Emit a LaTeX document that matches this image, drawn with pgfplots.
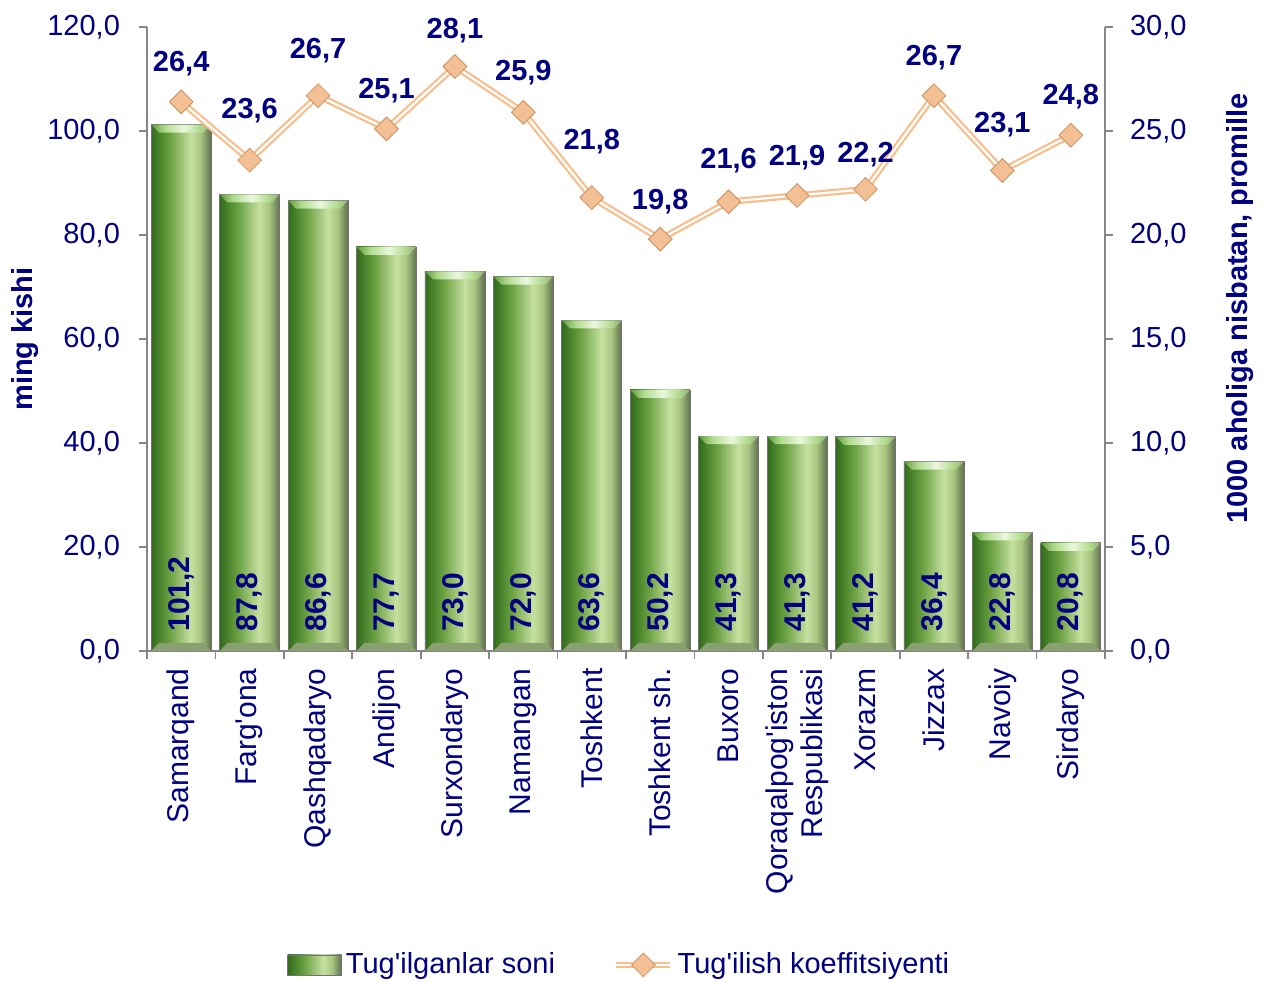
\documentclass[border=0pt]{standalone}
\usepackage{pgfplots}
\pgfplotsset{compat=1.18}
\usepackage{pgfplotstable}
\usepackage{fontspec}
\setmainfont{Liberation Sans}[Ligatures=TeXOff]
\definecolor{navy}{RGB}{0,0,128}
\definecolor{axgray}{RGB}{134,134,134}
\definecolor{gA}{RGB}{50,108,28}
\definecolor{gB}{RGB}{105,160,65}
\definecolor{gC}{RGB}{198,224,160}
\definecolor{gD}{RGB}{170,198,130}
\definecolor{gE}{RGB}{95,112,78}
\definecolor{cA}{RGB}{95,155,60}
\definecolor{cB}{RGB}{175,218,140}
\definecolor{cC}{RGB}{235,248,222}
\definecolor{cD}{RGB}{150,170,125}
\definecolor{botbev}{RGB}{138,160,112}
\definecolor{peach}{RGB}{248,190,140}
\definecolor{peachfill}{RGB}{242,192,148}
\definecolor{peachdark}{RGB}{205,145,95}
\pgfdeclarehorizontalshading{barshade}{100bp}{color(0bp)=(gA); color(25bp)=(gA); color(40bp)=(gB); color(58bp)=(gC); color(66bp)=(gD); color(75bp)=(gE); color(100bp)=(gE)}
\pgfdeclarehorizontalshading{capshade}{100bp}{color(0bp)=(cA); color(25bp)=(cA); color(36bp)=(cB); color(52bp)=(cC); color(66bp)=(cB); color(75bp)=(cD); color(100bp)=(cD)}
\pgfdeclareplotmark{bartop}{%
  \pgfpathmoveto{\pgfpoint{-15pt}{0pt}}%
  \pgfpathlineto{\pgfpoint{15pt}{0pt}}%
  \pgfpathlineto{\pgfpoint{11pt}{-4pt}}%
  \pgfpathlineto{\pgfpoint{-11pt}{-4pt}}%
  \pgfpathclose
  \pgfshadepath{capshade}{0}%
  \pgfusepath{}%
}
\pgfdeclareplotmark{barbot}{%
  \pgfsetfillcolor{botbev}%
  \pgfpathmoveto{\pgfpoint{-15pt}{0pt}}%
  \pgfpathlineto{\pgfpoint{15pt}{0pt}}%
  \pgfpathlineto{\pgfpoint{11pt}{4pt}}%
  \pgfpathlineto{\pgfpoint{-11pt}{4pt}}%
  \pgfpathclose
  \pgfusepath{fill}%
}
\newcommand\fs{\fontsize{14.5}{17}\selectfont}
\pgfplotsset{
  linelegend/.style={legend image code/.code={%
    \draw[draw=peach, double=white, double distance=1.1pt, line width=1.1pt] (0pt,0pt) -- (27pt,0pt);
    \draw[mark=square*, mark size=4.2pt, mark options={rotate=45, fill=peachfill, draw=peachdark, line width=0.4pt}] plot coordinates {(13.5pt,0pt)};}},
  barlegend/.style={legend image code/.code={\path[shade, shading=barshade, draw=black!55, line width=0.3pt] (0pt,-5pt) rectangle (27pt,5pt);}},
}
\pgfplotstableread{
x v k dy
0 101.2 26.4 19
1 87.8 23.6 24.5
2 86.6 26.7 22.5
3 77.7 25.1 19
4 73.0 28.1 18
5 72.0 25.9 20
6 63.6 21.8 28
7 50.2 19.8 19
8 41.3 21.6 20.5
9 41.3 21.9 19
10 41.2 22.2 17.5
11 36.4 26.7 19
12 22.8 23.1 23
13 20.8 24.8 19.5
}\data
\begin{document}
\begin{tikzpicture}
\useasboundingbox (-73.5pt,-166pt) rectangle (561pt,325.5pt);
\begin{axis}[
  at={(0,0)}, anchor=south west, scale only axis,
  width=479pt, height=312pt,
  xmin=-0.5, xmax=13.5, ymin=0, ymax=120,
  axis x line*=bottom, axis y line*=left,
  axis line style={axgray, line width=0.8pt},
  tick style={axgray, line width=0.8pt},
  tick align=outside,
  major tick length=4pt, minor tick length=4pt,
  xtick={0,...,13},
  major x tick style={draw=none},
  minor xtick={-0.5,0.5,...,13.5},
  xticklabels={Samarqand,Farg'ona,Qashqadaryo,Andijon,Surxondaryo,Namangan,Toshkent,Toshkent sh.,Buxoro,{Qoraqalpog'iston\\Respublikasi},Xorazm,Jizzax,Navoiy,Sirdaryo},
  xticklabel style={rotate=90, anchor=east, align=right, font=\fontsize{15}{17.5}\selectfont, text=navy, inner sep=0pt, xshift=-4.5pt},
  ytick={0,20,...,120},
  yticklabel style={font=\fs, text=navy, xshift=-6pt},
  /pgf/number format/.cd, fixed, fixed zerofill, precision=1, use comma, assume math mode=true,
  /pgfplots/.cd,
  ylabel={ming kishi},
  every axis y label/.style={at={(axis description cs:-0.127,0.5)}, rotate=90, anchor=center, font=\bfseries\fs, text=navy},
]
\pgfplotsinvokeforeach{0,...,13}{
  \addplot[ybar, bar width=30pt, bar shift=0pt, shading=barshade, draw=black!55, line width=0.3pt,
    restrict expr to domain={\coordindex}{#1:#1}] table[x=x, y=v] {\data};
}
\addplot[only marks, mark=barbot] table[x=x, y expr=0] {\data};
\addplot[only marks, mark=bartop] table[x=x, y=v] {\data};
\end{axis}
\begin{axis}[
  at={(0,0)}, anchor=south west, scale only axis,
  width=479pt, height=312pt,
  xmin=-0.5, xmax=13.5, ymin=0, ymax=30,
  axis y line*=right, axis x line=none,
  axis line style={axgray, line width=0.8pt},
  tick style={axgray, line width=0.8pt},
  tick align=outside, major tick length=4pt,
  ytick={0,5,...,30},
  yticklabel style={font=\fs, text=navy, xshift=5pt},
  /pgf/number format/.cd, fixed, fixed zerofill, precision=1, use comma, assume math mode=true,
  /pgfplots/.cd,
  ylabel={1000 aholiga nisbatan, promille},
  every axis y label/.style={at={(axis description cs:1.141,0.549)}, rotate=90, anchor=center, font=\bfseries\fs, text=navy},
  legend style={at={(axis description cs:0.494,-0.503)}, anchor=center, draw=none, fill=none, font=\fs, text=navy},
  legend columns=2,
  /tikz/every even column/.append style={column sep=27pt},
]
\addlegendimage{barlegend}
\addlegendentry{Tug'ilganlar soni}
\addplot[draw=peach, double=white, double distance=1.1pt, line width=1.1pt,
  mark=square*, mark size=4.2pt, mark options={rotate=45, fill=peachfill, draw=peachdark, line width=0.4pt},
  nodes near coords, point meta=explicit,
  visualization depends on={\thisrow{dy} \as \dy},
  nodes near coords align={center},
  every node near coord/.style={yshift=\dy pt, anchor=center, font=\bfseries\fs, text=navy},
  linelegend
] table[x=x, y=k, meta=k] {\data};
\addlegendentry{Tug'ilish koeffitsiyenti}
\addplot[draw=none, mark=none, forget plot,
  nodes near coords, point meta=explicit,
  every node near coord/.style={yshift=9.5pt, rotate=90, anchor=west, inner sep=0pt, font=\bfseries\fontsize{15}{18}\selectfont, text=navy}
] table[x=x, y expr=0, meta=v] {\data};
\end{axis}
\end{tikzpicture}
\end{document}
